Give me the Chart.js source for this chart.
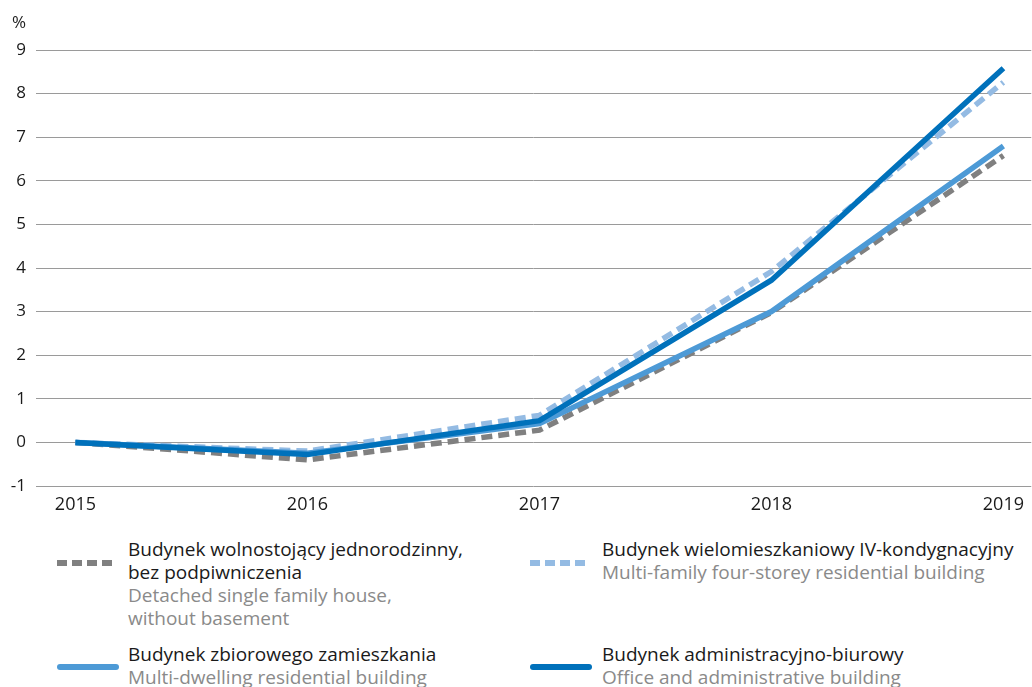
<!DOCTYPE html>
<html>
<head>
<meta charset="utf-8">
<script src="https://cdn.jsdelivr.net/npm/chart.js@4"></script>
<style>
  body { margin: 0; background: #fff; font-family: "Open Sans", sans-serif; }
  #wrap { position: relative; width: 1032px; height: 687px; overflow: hidden; }
  #unit { position: absolute; left: 12px; top: 10px; font-size: 17px; color: #222; }
  canvas { position: absolute; left: 0; top: 0; }
  .item { position: absolute; font-size: 19px; line-height: 23px; color: #1a1a1a; white-space: nowrap; }
  .item .en { color: #8a8a8a; }
  .sw { position: absolute; }
</style>
</head>
<body>
<div id="wrap">
  <canvas id="chart" width="1032" height="530"></canvas>
  <div id="unit">%</div>
  <div id="legend"></div>
</div>
<script>
const years = [2015, 2016, 2017, 2018, 2019];
const yTicks = [-1, 0, 1, 2, 3, 4, 5, 6, 7, 8, 9];

const detachedHouse = [0, -0.4, 0.28, 2.98, 6.58];
const fourStorey = [0, -0.2, 0.62, 3.92, 8.26];
const multiDwelling = [0, -0.25, 0.43, 3.0, 6.8];
const office = [0, -0.28, 0.5, 3.72, 8.58];

const seriesPl = [
  'Budynek wolnostojący jednorodzinny,<br>bez podpiwniczenia',
  'Budynek wielomieszkaniowy IV-kondygnacyjny',
  'Budynek zbiorowego zamieszkania',
  'Budynek administracyjno-biurowy'
];
const seriesEn = [
  'Detached single family house,<br>without basement',
  'Multi-family four-storey residential building',
  'Multi-dwelling residential building',
  'Office and administrative building'
];
const colors = ['#808080', '#94bbe3', '#4d9ad6', '#0071bb'];
const dashes = [[11, 6], [11, 6], [], []];

function points(values) {
  return years.map((yr, i) => ({ x: yr, y: values[i] }));
}

const allSeries = [detachedHouse, fourStorey, multiDwelling, office];
const drawOrder = [4, 3, 2, 1];

new Chart(document.getElementById('chart'), {
  type: 'line',
  data: {
    datasets: allSeries.map((vals, i) => ({
      label: seriesPl[i],
      data: points(vals),
      borderColor: colors[i],
      borderWidth: 5.5,
      borderDash: dashes[i],
      pointRadius: 0,
      tension: 0,
      fill: false,
      order: drawOrder[i]
    }))
  },
  options: {
    responsive: false,
    animation: false,
    devicePixelRatio: 1,
    layout: { padding: { top: 50, right: 0, left: 0, bottom: 0 } },
    plugins: { legend: { display: false }, tooltip: { enabled: false } },
    scales: {
      x: {
        type: 'linear',
        min: 2014.83,
        max: 2019.12,
        afterBuildTicks: (scale) => { scale.ticks = years.map(v => ({ value: v })); },
        afterFit: (scale) => { scale.height = 44; },
        grid: { display: false, drawTicks: false },
        border: { display: false },
        ticks: {
          padding: 8,
          color: '#1a1a1a',
          font: { family: 'Open Sans', size: 18 },
          callback: (v) => String(v),
          maxRotation: 0
        }
      },
      y: {
        min: -1,
        max: 9,
        afterBuildTicks: (scale) => { scale.ticks = yTicks.map(v => ({ value: v })); },
        afterFit: (scale) => { scale.width = 36; },
        grid: { color: '#9a9a9a', lineWidth: 1, drawTicks: false },
        border: { display: false },
        ticks: {
          padding: 10,
          color: '#1a1a1a',
          font: { family: 'Open Sans', size: 17 }
        }
      }
    }
  }
});

// legend below the chart
const legendPos = [
  { sx: 57, sy: 563, tx: 128, ty: 538 },
  { sx: 530, sy: 563, tx: 602, ty: 538 },
  { sx: 57, sy: 667, tx: 128, ty: 643 },
  { sx: 530, sy: 667, tx: 602, ty: 643 }
];
const legend = document.getElementById('legend');
legendPos.forEach((p, i) => {
  const sw = document.createElementNS('http://www.w3.org/2000/svg', 'svg');
  sw.setAttribute('width', 62);
  sw.setAttribute('height', 10);
  sw.setAttribute('class', 'sw');
  sw.style.left = p.sx + 'px';
  sw.style.top = (p.sy - 5) + 'px';
  const ln = document.createElementNS('http://www.w3.org/2000/svg', 'line');
  ln.setAttribute('x1', dashes[i].length ? 0 : 3); ln.setAttribute('x2', dashes[i].length ? 55 : 59);
  ln.setAttribute('y1', 5); ln.setAttribute('y2', 5);
  ln.setAttribute('stroke', colors[i]);
  ln.setAttribute('stroke-width', 6);
  if (dashes[i].length) ln.setAttribute('stroke-dasharray', '10 5');
  else ln.setAttribute('stroke-linecap', 'round');
  sw.appendChild(ln);
  legend.appendChild(sw);

  const txt = document.createElement('div');
  txt.className = 'item';
  txt.style.left = p.tx + 'px';
  txt.style.top = p.ty + 'px';
  txt.innerHTML = seriesPl[i] + '<br><span class="en">' + seriesEn[i] + '</span>';
  legend.appendChild(txt);
});
</script>
</body>
</html>
